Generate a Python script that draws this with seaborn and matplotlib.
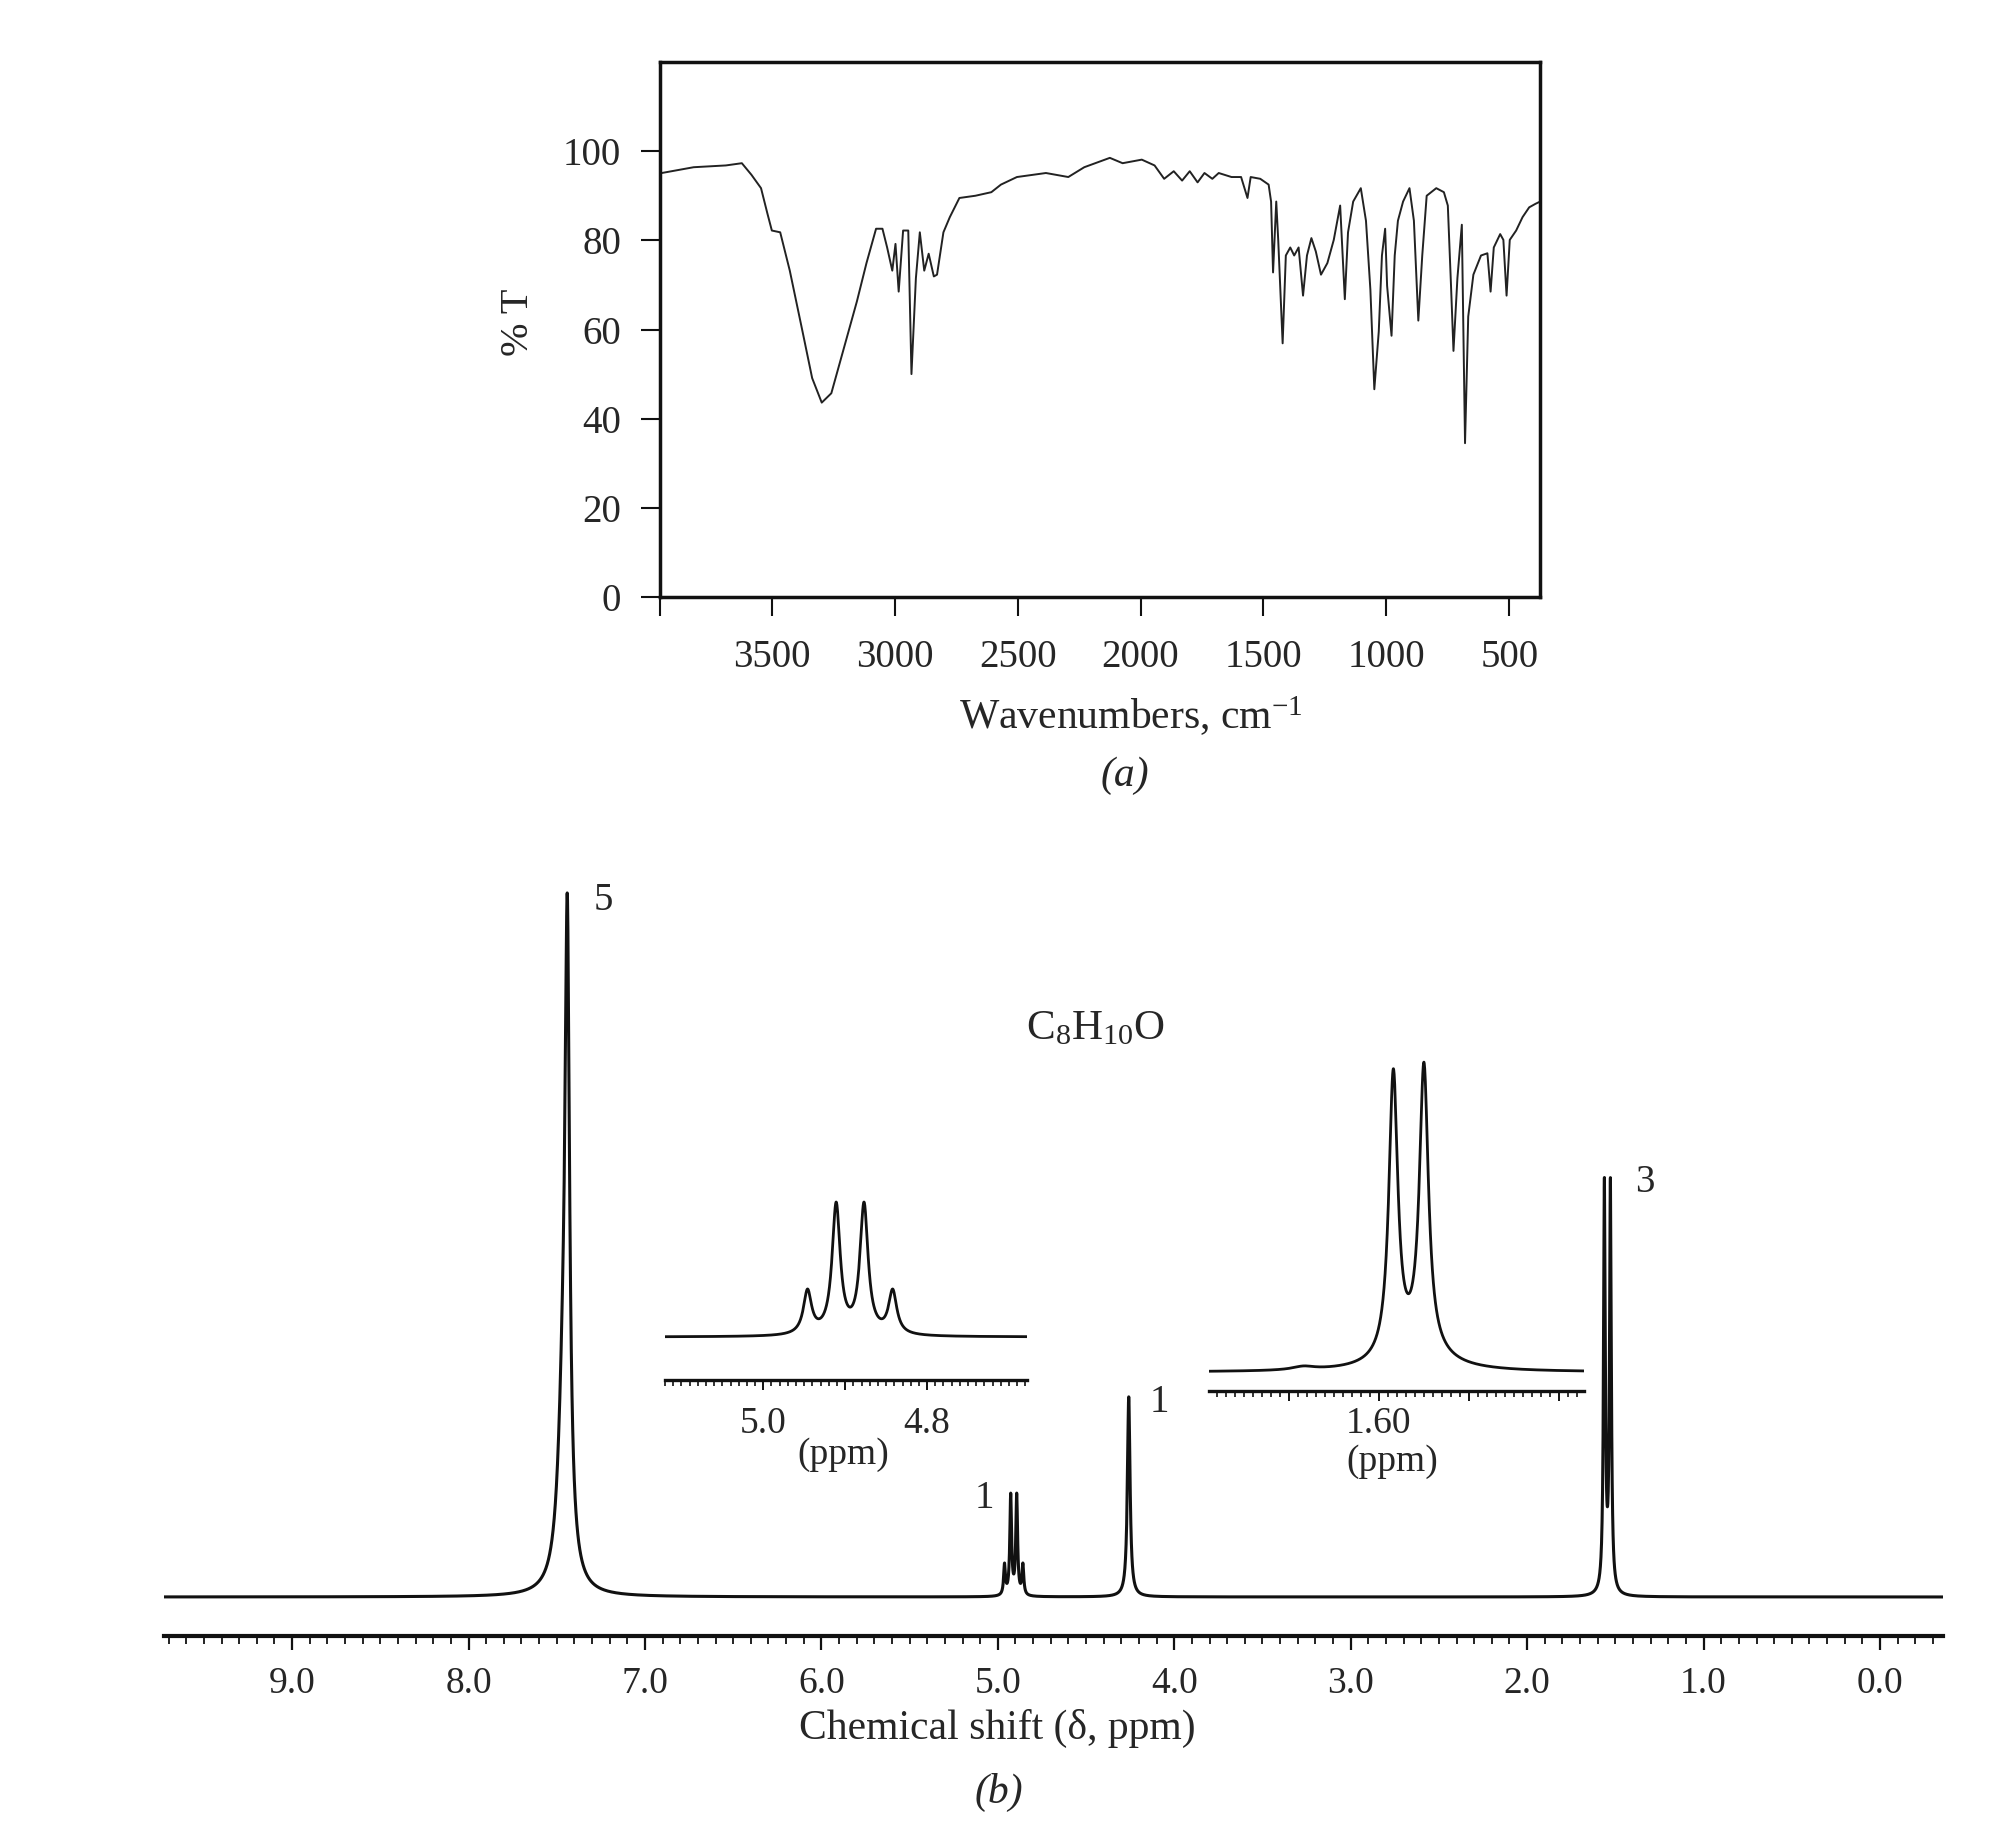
import numpy as np
import pandas as pd
import matplotlib
matplotlib.use("Agg")
import matplotlib.pyplot as plt
import seaborn as sns
from matplotlib.ticker import MultipleLocator

# ---------------- data ----------------
ir_wavenumber = [3948, 3818, 3687, 3622, 3583, 3544, 3518, 3500, 3466, 3427, 3375, 3336, 3297, 3258,
                 3206, 3154, 3115, 3076, 3050, 3031, 3010, 2997, 2984, 2966, 2945, 2932, 2914, 2898,
                 2880, 2862, 2841, 2828, 2802, 2776, 2737, 2672, 2607, 2568, 2503, 2385, 2294, 2229,
                 2125, 2073, 1995, 1943, 1904, 1865, 1831, 1800, 1768, 1740, 1708, 1682, 1630, 1591,
                 1565, 1552, 1513, 1479, 1469, 1461, 1448, 1440, 1422, 1409, 1391, 1375, 1357, 1339,
                 1323, 1305, 1287, 1266, 1240, 1214, 1188, 1169, 1156, 1135, 1104, 1083, 1065, 1049,
                 1031, 1018, 1005, 997, 979, 966, 953, 932, 906, 888, 870, 854, 836, 797, 766, 750,
                 737, 727, 711, 693, 680, 667, 646, 615, 589, 576, 563, 537, 524, 511, 498, 472,
                 446, 419, 393, 378]
ir_transmittance = [95.1, 96.4, 96.8, 97.3, 94.7, 91.7, 86.0, 82.2, 81.8, 73.2, 59.5, 49.1, 43.6, 45.7,
                    56.0, 66.3, 74.9, 82.6, 82.6, 78.4, 73.2, 79.2, 68.5, 82.2, 82.2, 50.0, 71.5, 81.8,
                    73.2, 77.0, 71.9, 72.3, 81.8, 85.2, 89.5, 90.0, 90.8, 92.5, 94.2, 95.1, 94.2, 96.4,
                    98.5, 97.3, 98.1, 96.8, 93.8, 95.5, 93.4, 95.5, 93.0, 95.1, 93.8, 95.1, 94.2, 94.2,
                    89.5, 94.2, 93.8, 92.5, 88.7, 72.8, 88.7, 80.1, 56.9, 76.6, 78.4, 76.6, 78.4, 67.6,
                    76.6, 80.5, 77.5, 72.3, 74.9, 80.1, 87.8, 66.8, 81.8, 88.7, 91.7, 84.4, 68.9, 46.6,
                    59.5, 76.6, 82.6, 69.8, 58.6, 76.6, 84.4, 88.7, 91.7, 84.4, 62.0, 76.6, 90.0, 91.7, 90.8, 87.8,
                    69.8, 55.2, 71.5, 83.5, 34.5, 62.9, 72.3, 76.6, 77.1, 68.5, 78.4, 81.4, 80.1, 67.6, 80.1, 82.2,
                    85.2, 87.4, 88.2, 88.6]
ir_xticks = [3500, 3000, 2500, 2000, 1500, 1000, 500]
ir_yticks = [0, 20, 40, 60, 80, 100]

# 1H NMR peaks (chemical shift, relative height, line width in ppm)
nmr_ppm = [7.440, 7.462, 4.962, 4.927, 4.893, 4.858, 4.258, 1.562, 1.528]
nmr_height = [0.815, 0.26, 0.043, 0.142, 0.142, 0.043, 0.285, 0.58, 0.58]
nmr_width = [0.030, 0.070, 0.012, 0.012, 0.012, 0.012, 0.018, 0.012, 0.012]
nmr_xticks = [9.0, 8.0, 7.0, 6.0, 5.0, 4.0, 3.0, 2.0, 1.0, 0.0]
integrals = ["5", "1", "1", "3"]

# expansion of the quartet
q_ppm = [4.946, 4.911, 4.877, 4.842]
q_height = [1, 3, 3, 1]
q_width = [0.012, 0.012, 0.012, 0.012]
# expansion of the doublet
d_ppm = [1.584, 1.550, 1.555, 1.684]
d_height = [1.0, 1.0, 0.06, 0.012]
d_width = [0.012, 0.012, 0.07, 0.03]

# ---------------- style ----------------
sns.set_style("ticks")
plt.rcParams["font.family"] = ["Liberation Serif", "DejaVu Serif"]
plt.rcParams["mathtext.fontset"] = "custom"
plt.rcParams["mathtext.rm"] = "Liberation Serif"
plt.rcParams["mathtext.it"] = "Liberation Serif:italic"

W, H = 2004, 1848
fig = plt.figure(figsize=(W / 100, H / 100), dpi=100)
fig.patch.set_facecolor("white")


def box(l, t, r, b):
    return [l / W, 1 - b / H, (r - l) / W, (b - t) / H]


def fx(x):
    return x / W


def fy(y):
    return 1 - y / H


def spectrum(x, centers, heights, widths):
    y = np.zeros_like(x)
    for c, a, w in zip(centers, heights, widths):
        y += a / (1 + (2 * (x - c) / w) ** 2)
    return y


INK = "#111111"

# ---------------- IR ----------------
ax1 = fig.add_axes(box(660, 62, 1540, 597))
ir_df = pd.DataFrame({"wn": ir_wavenumber, "T": ir_transmittance})
sns.lineplot(data=ir_df, x="wn", y="T", ax=ax1, color="#222222", lw=1.4,
             estimator=None, errorbar=None)
ax1.set_xlim(3955, 375)
ax1.set_ylim(0, 120)
ax1.set_xticks(ir_xticks)
ax1.set_xticks([3955], minor=True)
ax1.set_yticks(ir_yticks)
ax1.set_xticklabels([str(v) for v in ir_xticks], fontsize=28)
ax1.set_yticklabels([str(v) for v in ir_yticks], fontsize=28)
ax1.tick_params(axis="both", which="both", direction="out", length=14, width=1.5, color=INK)
ax1.tick_params(axis="x", pad=16)
ax1.tick_params(axis="y", pad=14)
for s in ax1.spines.values():
    s.set_linewidth(2.5)
    s.set_color(INK)
ax1.set_xlabel("")
ax1.set_ylabel("")
fig.text(fx(518), fy(322), "% T", rotation=90, ha="center", va="center", fontsize=29)
fig.text(fx(1131), fy(716), "Wavenumbers, cm$^{-1}$", ha="center", va="center", fontsize=30)
fig.text(fx(1125), fy(776), "(a)", ha="center", va="center", fontsize=30, style="italic")

# ---------------- NMR main ----------------
ax2 = fig.add_axes(box(164, 880, 1943, 1636))
xs = np.linspace(-0.36, 9.73, 40000)
nmr_df = pd.DataFrame({"ppm": xs, "I": spectrum(xs, nmr_ppm, nmr_height, nmr_width)})
sns.lineplot(data=nmr_df, x="ppm", y="I", ax=ax2, color=INK, lw=2.2,
             estimator=None, errorbar=None)
ax2.set_xlim(9.726, -0.357)
ax2.set_ylim(-0.0556, 1.0214)
for side in ("left", "right", "top"):
    ax2.spines[side].set_visible(False)
ax2.spines["bottom"].set_linewidth(3.0)
ax2.spines["bottom"].set_color(INK)
ax2.set_yticks([])
ax2.set_xticks(nmr_xticks)
ax2.set_xticklabels([f"{v:.1f}" for v in nmr_xticks], fontsize=27)
ax2.xaxis.set_minor_locator(MultipleLocator(0.1))
ax2.tick_params(axis="x", which="major", direction="out", length=10, width=1.6, pad=12, color=INK)
ax2.tick_params(axis="x", which="minor", direction="out", length=5.5, width=1.3, color=INK)
ax2.set_xlabel("")
ax2.set_ylabel("")
ax2.patch.set_alpha(0)

fig.text(fx(997), fy(1728), "Chemical shift (δ, ppm)", ha="center", va="center", fontsize=30)
fig.text(fx(999), fy(1792), "(b)", ha="center", va="center", fontsize=30, style="italic")
fig.text(fx(1095), fy(1029), "C$_{\\mathrm{8}}$H$_{\\mathrm{10}}$O", ha="center", va="center", fontsize=31)

label_pos = [(603, 901), (984, 1498), (1159, 1402), (1645, 1182)]
for txt, (px, py) in zip(integrals, label_pos):
    fig.text(fx(px), fy(py), txt, ha="center", va="center", fontsize=28)

# ---------------- inset: quartet ----------------
ax3 = fig.add_axes(box(665, 1190, 1027, 1380))
xq = np.linspace(4.678, 5.12, 6000)
yq = spectrum(xq, q_ppm, q_height, q_width)
yq = yq / yq.max()
sns.lineplot(x=xq, y=yq, ax=ax3, color=INK, lw=2.0, estimator=None, errorbar=None)
ax3.set_xlim(5.12, 4.678)
ax3.set_ylim(-0.319, 1.089)
ax3.set_xticks([5.0, 4.9, 4.8])
ax3.set_xticklabels(["5.0", "", "4.8"], fontsize=27)
ax3.xaxis.set_minor_locator(MultipleLocator(0.01))
ax3.tick_params(axis="x", which="major", direction="out", length=7, width=1.4, pad=12, color=INK)
ax3.tick_params(axis="x", which="minor", direction="out", length=4, width=1.2, color=INK)

# ---------------- inset: doublet ----------------
ax4 = fig.add_axes(box(1209, 1055, 1584, 1391))
xd = np.linspace(1.372, 1.789, 6000)
yd = spectrum(xd, d_ppm, d_height, d_width)
yd = yd / yd.max()
sns.lineplot(x=xd, y=yd, ax=ax4, color=INK, lw=2.0, estimator=None, errorbar=None)
ax4.set_xlim(1.789, 1.372)
ax4.set_ylim(-0.061, 1.023)
ax4.set_xticks([1.70, 1.60, 1.50, 1.40])
ax4.set_xticklabels(["", "1.60", "", ""], fontsize=27)
ax4.xaxis.set_minor_locator(MultipleLocator(0.01))
ax4.tick_params(axis="x", which="major", direction="out", length=7, width=1.4, pad=4, color=INK)
ax4.tick_params(axis="x", which="minor", direction="out", length=4, width=1.2, color=INK)

for ax in (ax3, ax4):
    for side in ("left", "right", "top"):
        ax.spines[side].set_visible(False)
    ax.spines["bottom"].set_linewidth(2.4)
    ax.spines["bottom"].set_color(INK)
    ax.set_yticks([])
    ax.set_xlabel("")
    ax.set_ylabel("")
    ax.patch.set_alpha(0)

fig.text(fx(843), fy(1455), "(ppm)", ha="center", va="center", fontsize=27)
fig.text(fx(1392), fy(1462), "(ppm)", ha="center", va="center", fontsize=27)

fig.savefig("out.png", dpi=100, facecolor="white")
